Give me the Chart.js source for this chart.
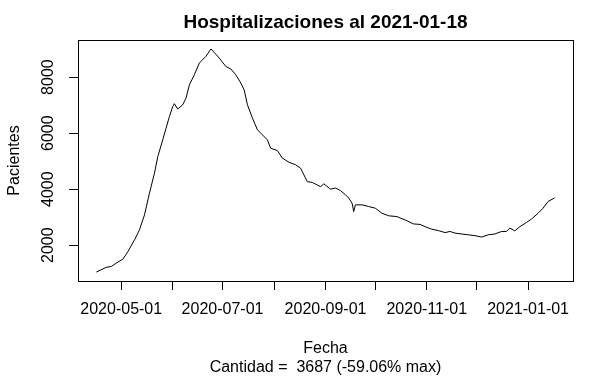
<!DOCTYPE html>
<html>
<head>
<meta charset="utf-8">
<script src="https://cdn.jsdelivr.net/npm/chart.js@4"></script>
<style>
  html, body { margin: 0; padding: 0; background: #fff; }
  #wrap { width: 614px; height: 379px; }
</style>
</head>
<body>
<div id="wrap"><canvas id="hosp"></canvas></div>
<script>
// fechas y pacientes
const fechas = [
    '2020-04-16', '2020-04-22', '2020-04-25', '2020-04-28', '2020-05-02', '2020-05-05', '2020-05-09', '2020-05-12', '2020-05-15', '2020-05-18',
    '2020-05-21', '2020-05-23', '2020-05-26', '2020-05-28', '2020-05-30', '2020-06-01', '2020-06-02', '2020-06-04', '2020-06-07', '2020-06-09',
    '2020-06-11', '2020-06-14', '2020-06-17', '2020-06-21', '2020-06-24', '2020-06-26', '2020-06-29', '2020-07-03', '2020-07-06', '2020-07-09',
    '2020-07-12', '2020-07-14', '2020-07-16', '2020-07-19', '2020-07-22', '2020-07-25', '2020-07-28', '2020-07-30', '2020-08-03', '2020-08-06',
    '2020-08-10', '2020-08-14', '2020-08-17', '2020-08-21', '2020-08-24', '2020-08-29', '2020-08-31', '2020-09-04', '2020-09-07', '2020-09-10',
    '2020-09-13', '2020-09-15', '2020-09-17', '2020-09-18', '2020-09-19', '2020-09-23', '2020-09-27', '2020-10-01', '2020-10-05', '2020-10-09',
    '2020-10-14', '2020-10-19', '2020-10-24', '2020-10-28', '2020-10-31', '2020-11-04', '2020-11-08', '2020-11-12', '2020-11-15', '2020-11-18',
    '2020-11-22', '2020-11-26', '2020-11-30', '2020-12-04', '2020-12-08', '2020-12-12', '2020-12-16', '2020-12-19', '2020-12-21', '2020-12-24',
    '2020-12-27', '2020-12-31', '2021-01-03', '2021-01-07', '2021-01-10', '2021-01-13', '2021-01-17'
];
const pacientes = [
    1040, 1210, 1240, 1360, 1500, 1770, 2190, 2550, 3080, 3860,
    4570, 5160, 5760, 6180, 6590, 6950, 7050, 6860, 7010, 7250,
    7720, 8080, 8500, 8740, 9006, 8880, 8680, 8380, 8290, 8080,
    7790, 7550, 7010, 6540, 6120, 5940, 5760, 5460, 5380, 5110,
    4960, 4870, 4750, 4270, 4240, 4090, 4190, 4000, 4040, 3950,
    3800, 3680, 3500, 3200, 3440, 3440, 3380, 3320, 3140, 3050,
    3020, 2900, 2760, 2740, 2660, 2570, 2520, 2450, 2490, 2430,
    2400, 2370, 2340, 2290, 2370, 2400, 2490, 2490, 2610, 2510,
    2660, 2810, 2930, 3140, 3320, 3560, 3687
];

// marcas del eje x (cada mes) y las que llevan etiqueta
const xTicks = ['2020-05-01', '2020-06-01', '2020-07-01', '2020-08-01', '2020-09-01',
                '2020-10-01', '2020-11-01', '2020-12-01', '2021-01-01'];
const xTickLabels = ['2020-05-01', '2020-07-01', '2020-09-01', '2020-11-01', '2021-01-01'];
const yTicks = [2000, 4000, 6000, 8000];

const titulo = 'Hospitalizaciones al 2021-01-18';
const xTitulo = ['Fecha', 'Cantidad =  3687 (-59.06% max)'];
const yTitulo = 'Pacientes';

const toDay = s => Date.UTC(+s.slice(0, 4), +s.slice(5, 7) - 1, +s.slice(8, 10)) / 864e5;
const fromDay = v => new Date(Math.round(v) * 864e5).toISOString().slice(0, 10);

// rango como en R (extiende 4%)
function rRange(vals) {
    const lo = Math.min(...vals), hi = Math.max(...vals);
    const pad = (hi - lo) * 0.04;
    return [lo - pad, hi + pad];
}

const dias = fechas.map(toDay);
const [xMin, xMax] = rRange(dias);
const [yMin, yMax] = rRange(pacientes);

const FONT = 'Liberation Sans, Arial, sans-serif';
Chart.defaults.font.family = FONT;
Chart.defaults.color = '#000';

// caja, titulo centrado sobre el area y etiquetas del eje y giradas (estilo R)
const boxPlugin = {
    id: 'rbox',
    afterDraw(chart) {
        const { ctx, chartArea } = chart;
        ctx.save();
        ctx.strokeStyle = '#000';
        ctx.lineWidth = 1;
        ctx.strokeRect(Math.round(chartArea.left) + 0.5, Math.round(chartArea.top) + 0.5,
            Math.round(chartArea.right - chartArea.left), Math.round(chartArea.bottom - chartArea.top));

        ctx.fillStyle = '#000';
        ctx.textAlign = 'center';
        ctx.textBaseline = 'alphabetic';
        ctx.font = 'bold 19px ' + FONT;
        ctx.fillText(titulo, (chartArea.left + chartArea.right) / 2, 28);

        const y = chart.scales.y;
        ctx.font = '16px ' + FONT;
        y.ticks.forEach(t => {
            ctx.save();
            ctx.translate(chartArea.left - 25, y.getPixelForValue(t.value));
            ctx.rotate(-Math.PI / 2);
            ctx.fillText(String(t.value), 0, 0);
            ctx.restore();
        });
        ctx.restore();
    }
};

new Chart(document.getElementById('hosp'), {
    type: 'line',
    data: {
        datasets: [{
            data: dias.map((d, i) => ({ x: d, y: pacientes[i] })),
            borderColor: '#000',
            borderWidth: 1,
            pointRadius: 0,
            tension: 0,
            fill: false
        }]
    },
    options: {
        responsive: true,
        maintainAspectRatio: false,
        animation: false,
        events: [],
        layout: {
            padding: { left: 0, right: 41, top: 40, bottom: 0 }
        },
        plugins: {
            legend: { display: false },
            tooltip: { enabled: false },
            title: { display: false }
        },
        scales: {
            x: {
                type: 'linear',
                min: xMin,
                max: xMax,
                afterBuildTicks: scale => {
                    scale.ticks = xTicks.map(s => ({ value: toDay(s) }));
                },
                afterFit: scale => { scale.height = 98; },
                ticks: {
                    autoSkip: false,
                    maxRotation: 0,
                    minRotation: 0,
                    padding: 10,
                    font: { size: 16 },
                    callback: v => {
                        const s = fromDay(v);
                        return xTickLabels.includes(s) ? s : '';
                    }
                },
                grid: {
                    drawOnChartArea: false,
                    drawTicks: true,
                    tickLength: 9,
                    color: '#000'
                },
                border: { display: false },
                title: {
                    display: true,
                    text: xTitulo,
                    font: { size: 16, lineHeight: 1.2 },
                    padding: { top: 0, bottom: 2 }
                }
            },
            y: {
                min: yMin,
                max: yMax,
                afterBuildTicks: scale => {
                    scale.ticks = yTicks.map(v => ({ value: v }));
                },
                afterFit: scale => { scale.width = 78; },
                ticks: { display: false },
                grid: {
                    drawOnChartArea: false,
                    drawTicks: true,
                    tickLength: 9,
                    color: '#000'
                },
                border: { display: false },
                title: {
                    display: true,
                    text: yTitulo,
                    font: { size: 16, lineHeight: 1.2 },
                    padding: { top: 5, bottom: 0 }
                }
            }
        }
    },
    plugins: [boxPlugin]
});
</script>
</body>
</html>
